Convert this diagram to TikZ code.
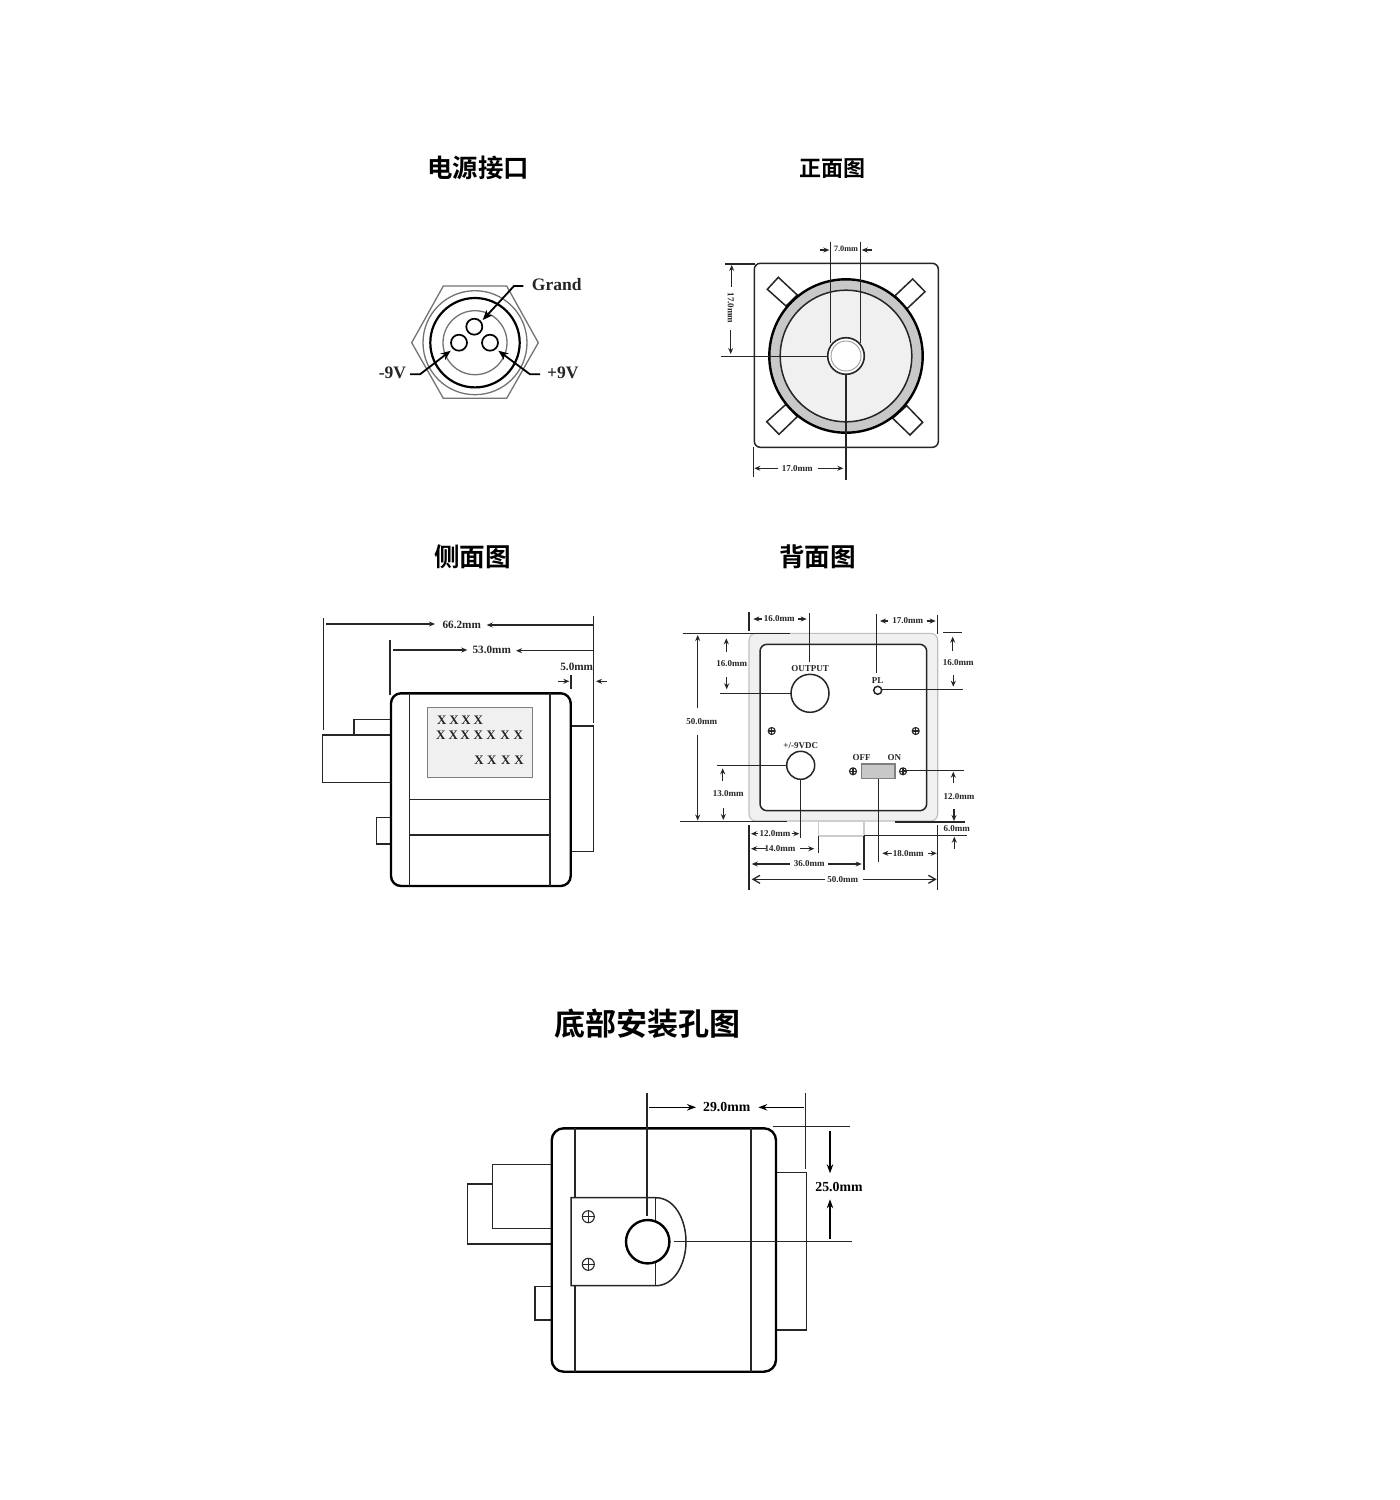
\documentclass[tikz,border=0pt]{standalone}
\usepackage{fontspec}
\usetikzlibrary{arrows.meta}
\setmainfont{Liberation Serif}
\newfontfamily\cjkb[BoldFont={Noto Sans CJK SC Bold}]{Noto Sans CJK SC}
\definecolor{lightfill}{HTML}{F0F0F0}
\definecolor{ringfill}{HTML}{C8C8C8}
\definecolor{inkdark}{HTML}{262626}
\newcommand{\screwmark}[3]{%
  \draw[screwline] (#1,#2) circle (#3);
  \draw[screwline] ({#1-#3},#2) -- ({#1+#3},#2) (#1,{#2-#3}) -- (#1,{#2+#3});}
\tikzset{
  ln/.style={line width=1.5pt,draw=inkdark},
  heavy/.style={line width=2.4pt,draw=black},
  grayline/.style={line width=1.3pt,draw=black!55},
  screwline/.style={line width=1.1pt,draw=inkdark},
  dimar/.style={line width=1.3pt,draw=inkdark,-{Stealth[length=6pt,width=5pt]}},
  bigar/.style={line width=1.5pt,draw=black,-{Stealth[length=9pt,width=6.5pt]}},
  openar/.style={line width=1.3pt,draw=inkdark,-{Straight Barb[length=7pt,width=8pt]}},
  title/.style={inner sep=0pt,font=\cjkb\bfseries},
  lab/.style={inner sep=0pt,text=inkdark,font=\fontsize{#1}{#1}\selectfont\bfseries},
  lab/.default=9pt
}
\begin{document}
\begin{tikzpicture}[x=1pt,y=-1pt]
\useasboundingbox[fill=white] (0,0) rectangle (1400,1500);

% ---------- titles
\node[title,font=\cjkb\bfseries\fontsize{25.4}{25.4}\selectfont] (t1) at (478,168) {电源接口};
\node[title,font=\cjkb\bfseries\fontsize{22}{22}\selectfont] (t2) at (832,169) {正面图};
\node[title,font=\cjkb\bfseries\fontsize{25.6}{25.6}\selectfont] (t3) at (472.5,557) {侧面图};
\node[title,font=\cjkb\bfseries\fontsize{25.6}{25.6}\selectfont] (t4) at (817.5,557) {背面图};
\node[title,font=\cjkb\bfseries\fontsize{31}{31}\selectfont] (t5) at (647,1024) {底部安装孔图};

% ---------- power connector
\draw[grayline] (443.3,286) -- (506.7,286) -- (538.3,342.7) -- (506.7,398.3) -- (443.3,398.3) -- (411.7,342.7) -- cycle;
\draw[grayline] (475,342.7) circle (52);
\draw[line width=2.2pt] (475,342.7) circle (44.7);
\draw[grayline] (475,342.7) circle (32);
\draw[line width=1.7pt,fill=white] (474.3,326.7) circle (8);
\draw[line width=1.7pt,fill=white] (459,342.7) circle (8);
\draw[line width=1.7pt,fill=white] (490,342.7) circle (8);
\tikzset{pwr/.style={line width=1.8pt,draw=black,-{Stealth[length=10pt,width=8pt]}}}
\draw[pwr] (523.3,286) -- (514,286) -- (482.7,320);
\draw[pwr] (410,374.3) -- (420,374.3) -- (450.7,350.7);
\draw[pwr] (540,374.3) -- (530,374.3) -- (498.3,350.7);
\node[lab=17.5pt] (grand) at (556.7,285) {Grand};
\node[lab=17.5pt] (minus) at (392.5,373) {-9V};
\node[lab=17.5pt] (plus) at (562.7,373) {+9V};

% ---------- front view
\draw[ln,rounded corners=6pt] (754.3,263.3) rectangle (938.3,447.3);
\draw[ln,fill=white] (778.3,277.3) -- (797.3,295) -- (786,306) -- (767.3,289.3) -- cycle;
\draw[ln,fill=white] (912.7,279) -- (925,291.7) -- (906.7,309) -- (895,295.7) -- cycle;
\draw[ln,fill=white] (786,404.3) -- (797.3,416.7) -- (779,434.3) -- (766.7,421.7) -- cycle;
\draw[ln,fill=white] (906.7,405.7) -- (922.7,422.3) -- (910,435) -- (892.7,418.3) -- cycle;
\draw[heavy,fill=ringfill] (846,356) circle (76.7);
\draw[ln,fill=lightfill] (846,356) circle (65.8);
\draw[ln] (830.7,241.7) -- (830.7,343);
\draw[ln] (860.7,241.7) -- (860.7,343);
\draw[ln] (720.7,356.7) -- (828.3,356.7);
\draw[ln] (846,371.7) -- (846,480);
\draw[line width=1.6pt,draw=inkdark,fill=white] (846,356) circle (18.3);
\draw[line width=1pt,draw=black!35] (846,356) circle (15);
\draw[dimar] (820,250) -- (829.3,250);
\draw[dimar] (872.3,250) -- (861.7,250);
\node[lab=8.2pt] (f7) at (846,249.3) {7.0mm};
\draw[ln] (725,264) -- (755,264);
\draw[dimar] (731.7,286.7) -- (731.7,265);
\draw[dimar] (730.7,330) -- (730.7,354);
\node[lab=9pt,rotate=-90] (f17v) at (730.7,308) {17.0mm};
\draw[ln] (753.3,446.7) -- (753.3,476.7);
\draw[dimar] (778.3,468.3) -- (754.3,468.3);
\draw[dimar] (818.3,468.3) -- (843.3,468.3);
\node[lab=9pt] (f17h) at (797.3,468.3) {17.0mm};

% ---------- side view
\draw[ln] (322.3,735) rectangle (391,782.7);
\draw[ln] (354,735) -- (354,719.3) -- (391,719.3);
\draw[ln] (391,817.3) -- (376.7,817.3) -- (376.7,844) -- (391,844);
\draw[ln] (570.7,726) -- (593.3,726) -- (593.3,851.7) -- (570.7,851.7);
\draw[heavy,rounded corners=10pt] (391,693.3) rectangle (570.7,886);
\draw[ln] (409.3,693.3) -- (409.3,886);
\draw[ln] (550,693.3) -- (550,886);
\draw[ln] (409.3,799.3) -- (550,799.3);
\draw[ln] (409.3,835) -- (550,835);
\draw[line width=1.2pt,draw=black!50,fill=lightfill] (427.3,707.7) rectangle (532.7,777.7);
\foreach \px/\py [count=\i] in {441.7/720.7,454/720.7,466/720.7,478.3/720.7,
  440.7/735.7,453.3/735.7,465/735.7,478.3/735.7,491/735.7,505/735.7,518.3/735.7,
  479/760,491.7/760,505.7/760,519/760}
  \node[lab=13pt] (x\i) at (\px,\py) {X};
\draw[ln] (323.3,618.3) -- (323.3,730);
\draw[ln] (593.3,616) -- (593.3,723.3);
\draw[ln] (390,640) -- (390,695);
\draw[dimar] (326,624) -- (435,624);
\draw[dimar] (592.7,625) -- (486.7,625);
\node[lab=11.2pt] (s66) at (461.7,625) {66.2mm};
\draw[dimar] (393.3,650) -- (467.3,650);
\draw[dimar] (593.3,650.7) -- (516,650.7);
\node[lab=11.2pt] (s53) at (491.7,650) {53.0mm};
\node[lab=11.2pt] (s5) at (576.7,667.3) {5.0mm};
\draw[ln] (571,675) -- (571,689.3);
\draw[dimar] (558.3,681.3) -- (569.3,681.3);
\draw[dimar] (606.7,681.3) -- (596,681.3);

% ---------- back view
\draw[line width=1.1pt,draw=black!25,fill=lightfill,rounded corners=7pt] (749,633.3) rectangle (937.7,821);
\draw[line width=1.1pt,draw=black!20,fill=white] (818.3,821.7) rectangle (864,836);
\draw[ln,fill=white,rounded corners=7pt] (760,644.3) rectangle (926.7,810.7);
\draw[ln] (809.3,613.3) -- (809.3,661.7);
\draw[ln] (876.3,614) -- (876.3,673.3);
\draw[ln] (749,611.7) -- (749,630.7);
\draw[ln] (937.7,615) -- (937.7,634.3);
\draw[ln] (683.3,633.3) -- (790,633.3);
\draw[ln] (943.3,632.3) -- (962.3,632.3);
\draw[ln] (720,693.7) -- (791,693.7);
\draw[ln] (882.3,689.3) -- (963.3,689.3);
\draw[ln] (716.7,765.3) -- (786.7,765.3);
\draw[ln] (680,821.7) -- (786.7,821.7);
\draw[ln] (895,822) -- (965,822);
\draw[ln] (800.7,779) -- (800.7,838.3);
\draw[ln] (749,825) -- (749,890);
\draw[ln] (937.7,825) -- (937.7,890);
\draw[ln] (818.3,836) -- (818.3,853.3);
\draw[ln] (864,836) -- (864,870);
\draw[ln] (878.7,778.3) -- (878.7,862.3);
\draw[ln] (864,835.3) -- (966.7,835.3);
\draw[ln] (903,770.7) -- (964.3,770.7);
\draw[ln,fill=white] (810,693.3) circle (19);
\draw[ln,fill=white] (877.7,690.3) circle (4);
\draw[ln,fill=white] (800.7,765.3) circle (14);
\draw[line width=1.1pt,draw=black!50,fill=ringfill] (861.7,764) rectangle (895,778.3);
\screwmark{771.7}{731}{3.5}
\screwmark{915.7}{731}{3.5}
\screwmark{853}{771.3}{3.5}
\screwmark{903}{771.3}{3.5}
\node[lab=9pt] (bout) at (810,668.3) {OUTPUT};
\node[lab=9pt] (bpl) at (877.7,680.3) {PL};
\node[lab=9pt] (bvdc) at (800.7,746) {+/-9VDC};
\node[lab=9pt] (boff) at (861.7,757.7) {OFF};
\node[lab=9pt] (bon) at (894.3,757.7) {ON};
\node[lab=9pt] (d1) at (779.3,619) {16.0mm};
\draw[dimar] (761.7,619) -- (753.3,619);
\draw[dimar] (798.3,619) -- (806.7,619);
\node[lab=9pt] (d2) at (907.7,621) {17.0mm};
\draw[dimar] (888.3,621) -- (880,621);
\draw[dimar] (926.7,621) -- (935.7,621);
\node[lab=9pt] (d3) at (701.7,721.7) {50.0mm};
\draw[dimar] (697.7,708.3) -- (697.7,635);
\draw[dimar] (697.7,735) -- (697.7,820.5);
\node[lab=9pt] (d4) at (731.7,664) {16.0mm};
\draw[dimar] (726.3,651.7) -- (726.3,638.3);
\draw[dimar] (726.7,677.3) -- (726.7,689.3);
\node[lab=9pt] (d5) at (958.3,662.3) {16.0mm};
\draw[dimar] (952.7,650.7) -- (952.7,636.7);
\draw[dimar] (953.3,675) -- (953.3,686.7);
\node[lab=9pt] (d6) at (728.3,793.3) {13.0mm};
\draw[dimar] (722.7,781) -- (722.7,768.3);
\draw[dimar] (723.3,808.3) -- (723.3,820);
\node[lab=9pt] (d7) at (775,833.7) {12.0mm};
\draw[dimar] (758.3,833.7) -- (751,833.7);
\draw[dimar] (791.7,833.7) -- (799.3,833.7);
\node[lab=9pt] (d8) at (780,848.7) {14.0mm};
\draw[dimar] (765.7,848.7) -- (751,848.7);
\draw[dimar] (800,848.7) -- (814.3,848.7);
\node[lab=9pt] (d9) at (809.3,864) {36.0mm};
\draw[dimar] (790,864) -- (751.7,864);
\draw[dimar] (827.7,864) -- (861.7,864);
\node[lab=9pt] (d10) at (842.7,879.3) {50.0mm};
\draw[openar] (825,879.3) -- (751.7,879.3);
\draw[openar] (862.7,879.3) -- (936.7,879.3);
\node[lab=9pt] (d11) at (908.3,853.3) {18.0mm};
\draw[dimar] (891.7,853.3) -- (882.3,853.3);
\draw[dimar] (928.3,853.3) -- (936.7,853.3);
\node[lab=9pt] (d12) at (959,797) {12.0mm};
\draw[dimar] (953.3,783.3) -- (953.3,771.7);
\draw[dimar] (954,809.3) -- (954,821);
\node[lab=9pt] (d13) at (956.7,829) {6.0mm};
\draw[dimar] (954.3,848.7) -- (954.3,836.7);

% ---------- bottom view
\draw[ln] (551.7,1164.3) -- (492.3,1164.3) -- (492.3,1228.3) -- (551.7,1228.3);
\draw[ln] (492.3,1184) -- (467.7,1184) -- (467.7,1244) -- (551.7,1244);
\draw[ln] (551.7,1286.7) -- (535,1286.7) -- (535,1320) -- (551.7,1320);
\draw[ln] (776,1172.7) -- (806.7,1172.7) -- (806.7,1330) -- (776,1330);
\draw[heavy,rounded corners=12pt] (551.7,1128.3) rectangle (776,1371.7);
\draw[ln] (575,1128.3) -- (575,1371.7);
\draw[ln] (751,1128.3) -- (751,1371.7);
\draw[ln,fill=white] (571,1197.7) -- (655.7,1197.7) .. controls (675,1197.7) and (686,1220) .. (686,1241.7) .. controls (686,1263) and (675,1285.7) .. (655.7,1285.7) -- (571,1285.7) -- cycle;
\draw[ln] (655.7,1197.7) -- (655.7,1285.7);
\draw[ln] (647,1093.3) -- (647,1216);
\draw[ln] (805.7,1093.3) -- (805.7,1169.3);
\draw[ln] (772.7,1126.7) -- (850,1126.7);
\draw[ln] (674,1241.7) -- (851.7,1241.7);
\draw[line width=2.4pt,fill=white] (647.7,1241.7) circle (21.7);
\screwmark{588.3}{1216.7}{6}
\screwmark{588.3}{1264.3}{6}
\draw[bigar] (649.3,1107.3) -- (696,1107.3);
\draw[bigar] (804,1107.3) -- (758.3,1107.3);
\node[lab=13.8pt,text=black] (u29) at (726.7,1107) {29.0mm};
\draw[bigar] (830,1130.7) -- (830,1173.3);
\draw[bigar] (830,1239.3) -- (830,1199.3);
\node[lab=13.8pt,text=black] (u25) at (839,1186.7) {25.0mm};
\end{tikzpicture}
\end{document}
